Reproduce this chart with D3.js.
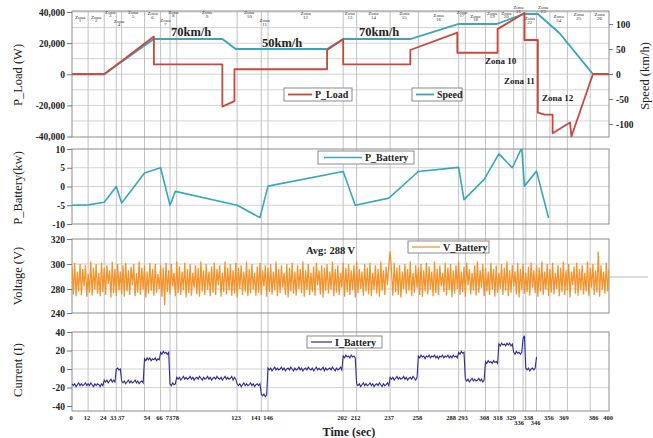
<!DOCTYPE html>
<html>
<head>
<meta charset="utf-8">
<script src="https://cdn.jsdelivr.net/npm/d3@7"></script>
<style>
  body { margin: 0; background: #fff; }
  svg { display: block; }
</style>
</head>
<body>
<svg id="chart" width="653" height="438"></svg>
<script>
// ---------- data ----------
// zone boundaries along the drive cycle (seconds)
const timeBoundaries = [0, 12, 24, 33, 37, 54, 66, 73, 78, 123, 141, 146, 202, 212, 237, 258, 288, 293, 308, 318, 329, 336, 338, 346, 356, 369, 386, 400];
const lowTickTimes = [336, 346];

// zones: start / end seconds, label number
const zoneStart = [0, 12, 24, 33, 37, 54, 66, 73, 78, 123, 141, 146, 202, 212, 237, 258, 288, 293, 308, 318, 329, 336, 346, 356, 369, 386];
const zoneEnd   = [12, 24, 33, 37, 54, 66, 73, 78, 123, 141, 146, 202, 212, 237, 258, 288, 293, 308, 318, 329, 336, 346, 356, 369, 386, 400];
const zoneNumber = d3.range(1, 27);

// vehicle speed (km/h)
const speedTime = [0, 24, 61, 112, 122, 190, 202, 252, 288, 316, 337, 347, 363, 388, 400];
const speedKmh  = [0, 0, 70, 70, 50, 50, 70, 70, 100, 100, 120, 120, 82, 0, 0];

// load power (W)
const loadTime  = [0, 24, 61, 61, 112, 112, 121, 121, 190, 190, 202, 202, 252, 252, 287, 287, 317, 317, 337, 337, 347, 347, 352, 358, 358, 371, 372, 388, 400];
const loadWatts = [0, 0, 24200, 6300, 6300, -20800, -17300, 3200, 3200, 15600, 22500, 6300, 6300, 15600, 26800, 13800, 13800, 29000, 39400, 22000, 22000, -24700, -26000, -26000, -37900, -31000, -40000, 0, 0];

// battery power (kW)
const batTime = [0, 12, 24, 33, 37, 54, 66, 73, 77, 123, 140, 146, 202, 211, 236, 258, 288, 292, 307, 318, 328, 335, 337, 346, 355];
const batKw   = [-5, -4.9, -4.2, 0, -4.4, 3.6, 5.0, -5.0, -1.3, -5.0, -8.3, 0.1, 4.0, -5.0, -3.1, 4.0, 5.1, -3.5, 1.9, 8.7, 5.0, 10.3, 0.1, 4.1, -8.4];

// battery voltage, one sample per second (V)
const voltage = [
  298,271,301,268,294,276,300,270,296,282,299,267,292,274,302,269,297,279,300,272,
  293,268,301,275,297,270,299,284,295,266,302,273,296,269,300,278,294,271,299,267,
  301,276,295,270,298,283,300,268,293,274,302,270,297,279,299,266,294,272,301,277,
  296,269,300,274,292,280,299,267,297,253,301,275,295,270,300,282,293,268,302,273,
  298,270,294,278,301,266,296,273,300,269,293,281,299,271,297,267,302,276,295,270,
  300,279,294,268,298,274,301,270,296,283,299,267,293,275,302,271,297,278,300,269,
  295,272,301,266,297,280,299,270,294,276,302,268,296,273,300,279,293,269,298,274,
  301,270,295,282,299,267,297,275,300,271,294,278,302,268,296,273,299,281,293,270,
  300,266,297,276,301,272,294,269,299,280,296,273,302,267,295,278,300,270,293,275,
  298,269,301,283,295,271,299,266,297,277,300,272,294,279,302,268,296,274,299,270,
  293,281,301,267,297,275,300,270,295,278,299,266,302,273,296,280,294,269,300,276,
  297,271,301,268,293,279,299,272,296,267,302,277,295,270,298,283,300,310,294,269,
  301,275,297,270,299,266,294,280,300,272,296,277,302,268,293,274,299,281,297,270,
  300,267,295,276,301,271,298,279,294,268,302,273,296,270,299,282,293,275,301,269,
  297,278,300,266,295,272,299,280,302,270,294,275,298,267,301,283,296,271,293,277,
  299,269,302,274,295,281,300,268,297,276,294,270,301,279,296,267,299,273,293,280,
  300,270,297,277,302,268,295,274,299,282,294,271,301,266,296,278,300,272,293,275,
  298,269,301,281,295,273,299,267,297,276,302,270,294,279,300,268,296,274,301,271,
  293,280,299,268,297,275,302,270,295,277,300,266,294,283,298,272,301,269,296,278,
  299,271,293,276,302,268,297,281,300,270,295,274,310,267,299,279,294,272,301,276,
  296
];
const voltageAvg = 288;

// battery current, one sample per second, grouped in runs: [start second, samples (A)]
const currentRuns = [
  [0,   [-16,-18,-16,-19,-17,-15,-18,-16,-18,-17,-15,-18]],
  [12,  [-16,-18,-15,-17,-19,-16,-18,-16,-17,-19,-16,-18]],
  [24,  [-12,-14,-12,-15,-13,-11,-14,-12,-14]],
  [33,  [0,1,-1,0]],
  [37,  [-13,-15,-13,-16,-14,-12,-15,-13,-15,-14,-12,-15,-13,-16,-14,-13,-15]],
  [54,  [11,9,12,10,12,9,11,10,12,9,11,10]],
  [66,  [18,16,19,17,18,16,18]],
  [73,  [-16,-18,-15,-17,-16]],
  [78,  [-9,-11,-9,-12,-10,-8,-11,-9,-11,-10,-8,-11,-9,-12,-10,-9,-11,-8,-10,-12,-9,-11,-10,-8,-11,-9,-12,-10,-9,-11,-8,-10,-11,-9,-12,-10,-8,-11,-9,-11,-10,-8,-12,-9,-11]],
  [123, [-16,-18,-16,-19,-17,-15,-18,-16,-18,-17,-15,-18,-16,-19,-17,-16,-18,-16]],
  [141, [-27,-29,-27,-30,-28]],
  [146, [1,-1,1,-2,0,2,-1,1,-1,0,2,-1,1,-2,0,1,-1,2,0,-2,1,-1,0,2,-1,1,-2,0,1,-1,2,0,-1,1,-2,0,2,-1,1,-1,0,2,-2,1,-1,0,1,-1,2,0,-2,1,-1,0,2,-1]],
  [202, [14,12,15,13,14,12,15,13,14,12]],
  [212, [-16,-18,-16,-19,-17,-15,-18,-16,-18,-17,-15,-18,-16,-19,-17,-16,-18,-15,-17,-19,-16,-18,-17,-15,-18]],
  [237, [-9,-11,-9,-12,-10,-8,-11,-9,-11,-10,-8,-11,-9,-12,-10,-9,-11,-8,-10,-12,-9]],
  [258, [14,12,15,13,14,11,14,13,15,12,14,13,15,12,14,11,14,13,15,12,14,13,15,12,14,12,15,13,14,12]],
  [288, [18,16,19,17,18]],
  [293, [-11,-13,-11,-14,-12,-10,-13,-11,-13,-12,-10,-13,-11,-14,-12]],
  [308, [8,6,9,7,8,6,9,7,8,6]],
  [318, [27,25,28,26,27,25,28,26,28,25,27]],
  [329, [18,16,19,17,18,16,18]],
  [336, [33,36]],
  [338, [1,-1,1,-2,0,1,-1,1]],
  [346, [13]]
];

// axis tick values
const loadTicks = [-40000, -20000, 0, 20000, 40000];
const speedTicks = [-100, -50, 0, 50, 100];
const batTicks = [-10, -5, 0, 5, 10];
const voltTicks = [240, 280, 300, 320];
const curTicks = [-40, -20, 0, 20, 40];

// ---------- layout ----------
const FONT = "'Liberation Serif','Times New Roman',serif";
const C = { load: "#c9483e", speed: "#3aa5bd", bat: "#37a6c0", volt: "#f28d1d", cur: "#2d2c8e",
            grid: "#d3d3d3", zone: "#c2c2c2", frame: "#8c8c8c", text: "#222" };
const X0 = 72, X1 = 609;
const panel = {
  load: { top: 11, bottom: 137 },
  bat:  { top: 149, bottom: 224 },
  volt: { top: 239, bottom: 313 },
  cur:  { top: 332, bottom: 411 }
};
// label heights for the zone names (y of the "Zona" line)
const zoneLabelY = [16.7,16.7,11.7,20.7,12.3,13.3,20.3,11.7,12.3,12.3,20,13.3,13.5,13.5,13.5,15,11.7,15.7,12.7,12.7,7.3,18,7.3,16,14,14];
// horizontal shifts of crowded time labels
const tickNudge = { 33: -3.5, 37: -1, 54: 2, 141: -6, 146: -0.5, 288: -8, 293: -3, 329: -3, 336: -4.5, 338: 2, 369: -4, 386: 3 };

const svg = d3.select("#chart");
const x = d3.scaleLinear().domain([0, 400]).range([X0, X1]);
const yLoad = d3.scaleLinear().domain([-40000, 40000]).range([136.5, 12]);
const ySpeed = d3.scaleLinear().domain([-100, 100]).range([124, 24]);
const yBat = d3.scaleLinear().domain([-10, 10]).range([224, 149]);
const yVolt = d3.scaleLinear().domain([240, 280, 300, 320]).range([313, 289, 264, 239]);
const yCur = d3.scaleLinear().domain([-40, 40]).range([406, 332]);

const defs = svg.append("defs");
Object.entries(panel).forEach(([k, p]) => {
  defs.append("clipPath").attr("id", "clip-" + k)
    .append("rect").attr("x", X0).attr("y", p.top).attr("width", X1 - X0).attr("height", p.bottom - p.top);
});

// ---------- horizontal grid ----------
function hgrid(vals, y) {
  svg.append("g").selectAll("line").data(vals).join("line")
    .attr("x1", X0).attr("x2", X1)
    .attr("y1", d => y(d)).attr("y2", d => y(d))
    .attr("stroke", C.grid).attr("stroke-width", 1);
}
hgrid(d3.range(-30000, 40001, 10000), yLoad);
hgrid([-5, 0, 5], yBat);
hgrid([280, 300], yVolt);
hgrid([-20, 0, 20], yCur);

// ---------- zone boundary lines through every panel ----------
svg.append("g").selectAll("line")
  .data(timeBoundaries.filter(t => t > 0 && t < 400)).join("line")
  .attr("x1", d => x(d)).attr("x2", d => x(d))
  .attr("y1", panel.load.top).attr("y2", panel.cur.bottom)
  .attr("stroke", C.zone).attr("stroke-width", 1);

// ---------- panel frames ----------
Object.values(panel).forEach(p => {
  svg.append("rect").attr("x", X0).attr("y", p.top)
    .attr("width", X1 - X0).attr("height", p.bottom - p.top)
    .attr("fill", "none").attr("stroke", C.frame).attr("stroke-width", 1);
});

// ---------- zone names ----------
const zl = svg.append("g").attr("font-family", FONT).attr("font-size", 5).attr("fill", "#333")
  .attr("text-anchor", "middle");
zoneNumber.forEach((n, i) => {
  const cx = x((zoneStart[i] + zoneEnd[i]) / 2);
  const cy = zoneLabelY[i];
  zl.append("text").attr("x", cx).attr("y", cy + 1.8).text("Zona");
  zl.append("text").attr("x", cx).attr("y", cy + 5.6).text(n);
});

// ---------- axes ----------
function styleAxis(g) {
  g.select(".domain").remove();
  g.selectAll("line").attr("stroke", "#777");
  g.selectAll("text").attr("font-family", FONT).attr("font-weight", "bold")
    .attr("fill", C.text);
}
const hy = d => d3.format(",")(d).replace("\u2212", "-");

svg.append("g").attr("transform", `translate(${X0},0)`)
  .call(d3.axisLeft(yLoad).tickValues(loadTicks).tickFormat(hy).tickSize(5).tickPadding(2))
  .call(styleAxis).call(g => g.selectAll("text").attr("font-size", 9.5));
svg.append("g").attr("transform", `translate(${X1},0)`)
  .call(d3.axisRight(ySpeed).tickValues(speedTicks).tickFormat(hy).tickSize(4).tickPadding(3))
  .call(styleAxis).call(g => g.selectAll("text").attr("font-size", 9.5));
svg.append("g").attr("transform", `translate(${X0},0)`)
  .call(d3.axisLeft(yBat).tickValues(batTicks).tickFormat(hy).tickSize(5).tickPadding(2))
  .call(styleAxis).call(g => g.selectAll("text").attr("font-size", 9.5));
svg.append("g").attr("transform", `translate(${X0},0)`)
  .call(d3.axisLeft(yVolt).tickValues(voltTicks).tickFormat(hy).tickSize(5).tickPadding(2))
  .call(styleAxis).call(g => g.selectAll("text").attr("font-size", 9.5));
svg.append("g").attr("transform", `translate(${X0},0)`)
  .call(d3.axisLeft(yCur).tickValues(curTicks).tickFormat(hy).tickSize(5).tickPadding(2))
  .call(styleAxis).call(g => g.selectAll("text").attr("font-size", 9.5));

svg.append("g").attr("transform", `translate(0,${panel.cur.bottom})`)
  .call(d3.axisBottom(x).tickValues(timeBoundaries).tickFormat(d3.format("d")).tickSize(0).tickPadding(4))
  .call(styleAxis)
  .call(g => g.selectAll("text").attr("font-size", 6.5)
    .attr("dx", d => (tickNudge[d] !== undefined ? tickNudge[d] : -1.5))
    .attr("dy", d => lowTickTimes.includes(d) ? "1.5em" : "0.71em"));

// axis titles
function vtitle(txt, cx, cy) {
  svg.append("text").attr("transform", `translate(${cx},${cy}) rotate(-90)`)
    .attr("text-anchor", "middle").attr("font-family", FONT).attr("font-size", 12.5)
    .attr("fill", C.text).text(txt);
}
vtitle("P_Load (W)", 22, 75);
vtitle("P_Battery(kw)", 22, 188);
vtitle("Voltage (V)", 22, 276);
vtitle("Current (I)", 22, 370);
vtitle("Speed (km/h)", 649, 76);
svg.append("text").attr("x", 349).attr("y", 436).attr("text-anchor", "middle")
  .attr("font-family", FONT).attr("font-weight", "bold").attr("font-size", 12)
  .attr("fill", C.text).text("Time (sec)");

// ---------- series ----------
const lineXY = (xs, ys, yScale) => d3.line().x((d, i) => x(xs[i])).y((d, i) => yScale(ys[i]))(ys);

svg.append("path").attr("clip-path", "url(#clip-load)")
  .attr("d", lineXY(speedTime, speedKmh, ySpeed))
  .attr("fill", "none").attr("stroke", C.speed).attr("stroke-width", 1.8);
svg.append("path").attr("clip-path", "url(#clip-load)")
  .attr("d", lineXY(loadTime, loadWatts, yLoad))
  .attr("fill", "none").attr("stroke", C.load).attr("stroke-width", 1.8).attr("stroke-linejoin", "round");

svg.append("path").attr("clip-path", "url(#clip-bat)")
  .attr("d", lineXY(batTime, batKw, yBat))
  .attr("fill", "none").attr("stroke", C.bat).attr("stroke-width", 1.6).attr("stroke-linejoin", "round");

svg.append("path").attr("clip-path", "url(#clip-volt)")
  .attr("d", d3.line().x((d, i) => x(i)).y(d => yVolt(d))(voltage))
  .attr("fill", "none").attr("stroke", C.volt).attr("stroke-width", 1.25).attr("opacity", 0.95);
svg.append("line").attr("x1", X1).attr("x2", 648)
  .attr("y1", yVolt(voltageAvg) - 2).attr("y2", yVolt(voltageAvg) - 2)
  .attr("stroke", "#b8b8b8").attr("stroke-width", 1);

const currentPts = currentRuns.flatMap(([t0, vals]) => vals.map((v, i) => [t0 + i, v]));
svg.append("path").attr("clip-path", "url(#clip-cur)")
  .attr("d", d3.line().x(d => x(d[0])).y(d => yCur(d[1]))(currentPts))
  .attr("fill", "none").attr("stroke", C.cur).attr("stroke-width", 1.1);

// ---------- annotations ----------
const ann = svg.append("g").attr("font-family", FONT).attr("font-weight", "bold").attr("fill", C.text);
ann.append("text").attr("x", 171).attr("y", 36).attr("font-size", 12.5).text("70km/h");
ann.append("text").attr("x", 262).attr("y", 46.5).attr("font-size", 12.5).text("50km/h");
ann.append("text").attr("x", 359).attr("y", 36).attr("font-size", 12.5).text("70km/h");
ann.append("text").attr("x", 485).attr("y", 64).attr("font-size", 9).text("Zona 10");
ann.append("text").attr("x", 504).attr("y", 84).attr("font-size", 9).text("Zona 11");
ann.append("text").attr("x", 542).attr("y", 101).attr("font-size", 9).text("Zona 12");
ann.append("text").attr("x", 306).attr("y", 254).attr("font-size", 10.5).text("Avg: 288 V");

// ---------- legends ----------
function legend(x0, y0, w, h, lineX0, lineX1, color, label, sw) {
  const g = svg.append("g");
  g.append("rect").attr("x", x0).attr("y", y0).attr("width", w).attr("height", h)
    .attr("fill", "#fff").attr("stroke", "#8a8a8a").attr("stroke-width", 1);
  g.append("line").attr("x1", lineX0).attr("x2", lineX1).attr("y1", y0 + h / 2).attr("y2", y0 + h / 2)
    .attr("stroke", color).attr("stroke-width", sw);
  g.append("text").attr("x", lineX1 + 3).attr("y", y0 + h / 2 + 3.5)
    .attr("font-family", FONT).attr("font-weight", "bold").attr("font-size", 10)
    .attr("fill", C.text).text(label);
}
legend(284, 88, 68, 13, 288, 312, C.load, "P_Load", 1.8);
legend(412, 88, 50, 13, 416, 434, C.speed, "Speed", 1.8);
legend(318, 151, 96, 13, 324, 362, C.bat, "P_Battery", 1.6);
legend(408, 241, 81, 12, 412, 440, C.volt, "V_Battery", 1.2);
legend(307, 336, 75, 12, 311, 332, C.cur, "I_Battery", 1.2);
</script>
</body>
</html>
